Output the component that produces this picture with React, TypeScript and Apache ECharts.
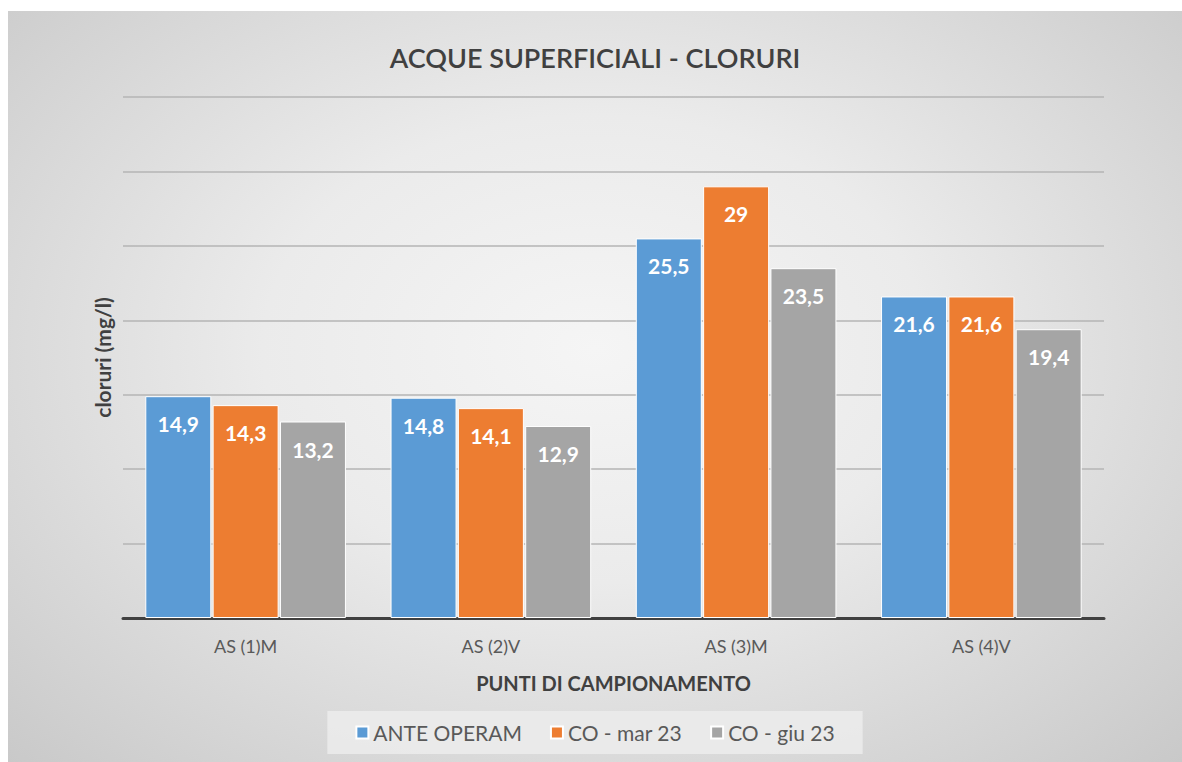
import React, { useEffect, useRef } from "react";
import * as echarts from "echarts";

const categories = ["AS (1)M", "AS (2)V", "AS (3)M", "AS (4)V"];
const anteOperam = [14.9, 14.8, 25.5, 21.6];
const coMar23 = [14.3, 14.1, 29, 21.6];
const coGiu23 = [13.2, 12.9, 23.5, 19.4];
const seriesNames = ["ANTE OPERAM", "CO - mar 23", "CO - giu 23"];
const colors = ["#5b9bd5", "#ed7d31", "#a5a5a5"];

const FONT = "Lato, 'Open Sans', sans-serif";

export default function App() {
  const ref = useRef<HTMLDivElement>(null);
  useEffect(() => {
    if (!ref.current) return;
    const chart = echarts.init(ref.current, undefined, { renderer: "svg" });
    const data = [anteOperam, coMar23, coGiu23];
    chart.setOption({
      animation: false,
      backgroundColor: "transparent",
      textStyle: { fontFamily: FONT },
      title: {
        text: "ACQUE SUPERFICIALI - CLORURI",
        left: "center",
        top: 28,
        textStyle: { fontFamily: FONT, fontSize: 27, fontWeight: 600, color: "#404040" },
      },
      legend: {
        bottom: 8,
        left: "center",
        data: seriesNames,
        itemWidth: 12,
        itemHeight: 12,
        itemGap: 28,
        icon: "rect",
        backgroundColor: "rgba(235,235,235,0.9)",
        padding: [11, 28, 11, 28],
        textStyle: { fontFamily: FONT, fontSize: 21, color: "#595959" },
      },
      grid: { left: 115, width: 981, top: 86, height: 521 },
      xAxis: {
        type: "category",
        data: categories,
        name: "PUNTI DI CAMPIONAMENTO",
        nameLocation: "middle",
        nameGap: 55,
        nameTextStyle: { fontFamily: FONT, fontSize: 20, fontWeight: "bold", color: "#404040" },
        axisLine: { lineStyle: { color: "#404040", width: 3 } },
        axisTick: { show: false },
        axisLabel: { fontFamily: FONT, fontSize: 18, color: "#595959", margin: 19 },
      },
      yAxis: {
        type: "value",
        min: 0,
        max: 35,
        interval: 5,
        name: "cloruri (mg/l)",
        nameLocation: "middle",
        nameGap: 10,
        nameTextStyle: { fontFamily: FONT, fontSize: 21, fontWeight: "bold", color: "#404040" },
        axisLabel: { show: false },
        axisLine: { show: false },
        axisTick: { show: false },
        splitLine: { lineStyle: { color: "#b4b4b4", width: 1.5 } },
      },
      series: seriesNames.map((name, i) => ({
        name,
        type: "bar",
        data: data[i],
        barWidth: 66,
        barGap: "2%",
        itemStyle: { color: colors[i], borderColor: "#ffffff", borderWidth: 1 },
        label: {
          show: true,
          position: "insideTop",
          distance: 17,
          color: "#ffffff",
          fontFamily: FONT,
          fontSize: 21,
          fontWeight: "bold",
          formatter: (p: any) => String(p.value).replace(".", ","),
        },
      })),
    });
    return () => chart.dispose();
  }, []);
  return (
    <div
      style={{
        position: "absolute",
        left: 8,
        top: 11,
        width: 1174,
        height: 751,
        background: "radial-gradient(ellipse at 50% 45%, #f5f5f5 0%, #ebebeb 40%, #c9c9c9 100%)",
      }}
    >
      <div ref={ref} style={{ width: 1174, height: 751 }} />
    </div>
  );
}
